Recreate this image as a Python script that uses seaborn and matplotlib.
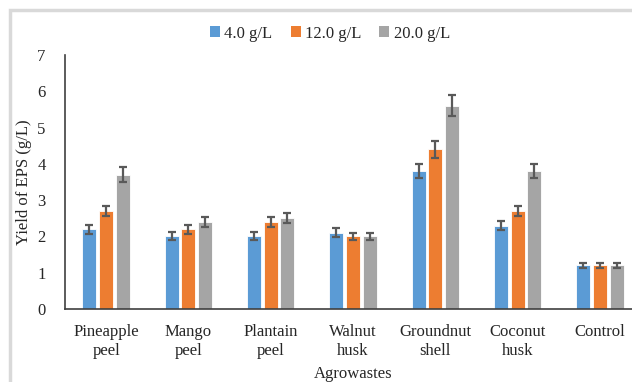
import numpy as np
import pandas as pd
import matplotlib.pyplot as plt
import seaborn as sns
from matplotlib.patches import Rectangle, Patch

# data
categories = ["Pineapple\npeel", "Mango\npeel", "Plantain\npeel", "Walnut\nhusk",
              "Groundnut\nshell", "Coconut\nhusk", "Control"]
concentrations = ["4.0 g/L", "12.0 g/L", "20.0 g/L"]
yield_4 = [2.2, 2.0, 2.0, 2.1, 3.8, 2.3, 1.2]
yield_12 = [2.7, 2.2, 2.4, 2.0, 4.4, 2.7, 1.2]
yield_20 = [3.7, 2.4, 2.5, 2.0, 5.6, 3.8, 1.2]
err_4 = [0.12, 0.11, 0.11, 0.12, 0.20, 0.12, 0.07]
err_12 = [0.15, 0.12, 0.13, 0.10, 0.23, 0.14, 0.07]
err_20 = [0.20, 0.13, 0.14, 0.10, 0.29, 0.20, 0.07]

colors = ["#5B9BD5", "#ED7D31", "#A5A5A5"]

df = pd.DataFrame({
    "Agrowaste": categories * 3,
    "Conc": [c for c in concentrations for _ in categories],
    "Yield": yield_4 + yield_12 + yield_20,
    "Err": err_4 + err_12 + err_20,
})

sns.set_style("white")
plt.rcParams["font.family"] = ["Liberation Serif", "DejaVu Serif"]
plt.rcParams["font.size"] = 12

fig = plt.figure(figsize=(6.32, 3.82), dpi=100)
ax = fig.add_axes([65 / 632, 1 - 309 / 382, 576 / 632, 254 / 382])

sns.barplot(data=df, x="Agrowaste", y="Yield", hue="Conc", palette=colors,
            order=categories, hue_order=concentrations, errorbar=None,
            width=0.61, gap=0.16, saturation=1, edgecolor="white", linewidth=0.6,
            legend=False, ax=ax)

# error bars placed on the bars seaborn drew
bars = [p for p in ax.patches if p.get_height() > 0]
xs = [b.get_x() + b.get_width() / 2 for b in bars]
hs = [b.get_height() for b in bars]
errs = err_4 + err_12 + err_20
ax.errorbar(xs, hs, yerr=errs, fmt="none", ecolor="#595959", elinewidth=1.6,
            capsize=3, capthick=1.6, zorder=5)

ax.set_ylim(0, 7)
ax.set_xlim(-0.5, 6.5)
ax.set_yticks(range(0, 8))
ax.set_ylabel("Yield of EPS (g/L)", fontsize=12)
ax.yaxis.set_label_coords(-0.058, 0.5)
ax.set_xlabel("Agrowastes", fontsize=12, labelpad=5)
for s in ["top", "right"]:
    ax.spines[s].set_visible(False)
for s in ["left", "bottom"]:
    ax.spines[s].set_color("#404040")
    ax.spines[s].set_linewidth(1.2)
ax.tick_params(axis="both", direction="out", length=4, width=1, color="#404040",
               labelsize=12)
ax.tick_params(axis="y", pad=10)
ax.tick_params(axis="x", pad=7)

handles = [Patch(facecolor=c, edgecolor="none") for c in colors]
fig.legend(handles, concentrations, loc="center", bbox_to_anchor=(0.522, 0.912),
           ncol=3, frameon=False, fontsize=12, handlelength=0.6, handleheight=0.6,
           handletextpad=0.25, columnspacing=1.1)

# chart area border
fig.patches.append(Rectangle((10 / 632, -0.1), 1.2, 1 - 10 / 382 + 0.1,
                             transform=fig.transFigure, fill=False,
                             edgecolor="#d9d9d9", linewidth=2.5))

fig.savefig("out.png", dpi=100)
